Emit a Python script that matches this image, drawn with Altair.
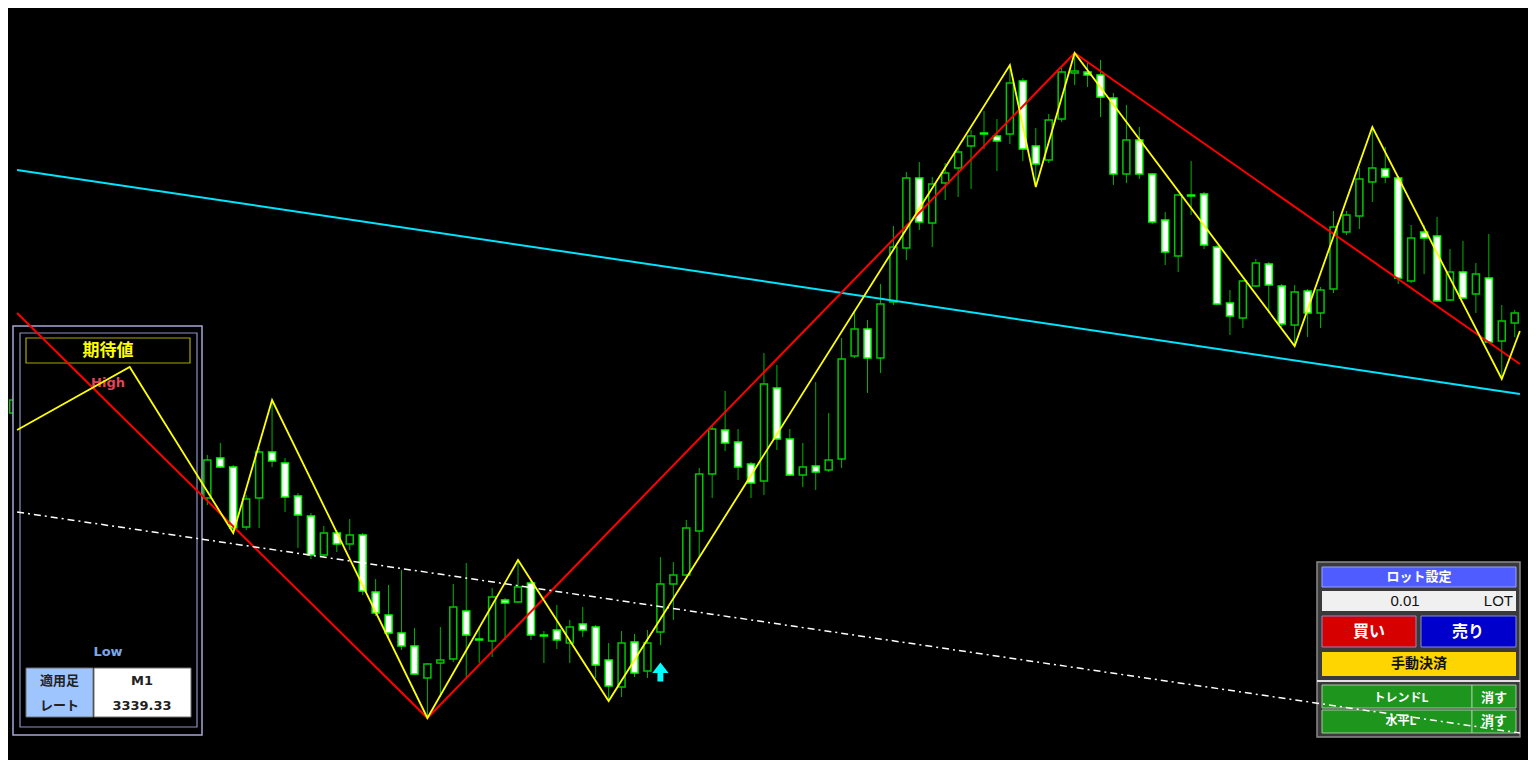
import altair as alt
import pandas as pd

# ---------------- candle data (bar index, price points measured top-down) ----------------
idx = [0, 15, 16, 17, 18, 19, 20, 21, 22, 23, 24, 25, 26, 27, 28, 29, 30, 31, 32, 33, 34,
       35, 36, 37, 38, 39, 40, 41, 42, 43, 44, 45, 46, 47, 48, 49, 50, 51, 52, 53, 54,
       55, 56, 57, 58, 59, 60, 61, 62, 63, 64, 65, 66, 67, 68, 69, 70, 71, 72, 73, 74,
       75, 76, 77, 78, 79, 80, 81, 82, 83, 84, 85, 86, 87, 88, 89, 90, 91, 92, 93, 94,
       95, 96, 97, 98, 99, 100, 101, 102, 103, 104, 105, 106, 107, 108, 109, 110, 111,
       112, 113, 114, 115, 116]
opens = [413, 498, 458, 467, 527, 498, 452, 463, 496, 516, 555, 533, 544, 535, 592, 615, 633, 646, 678, 663, 659,
         611, 639, 641, 600, 602, 583, 635, 630, 643, 624, 627, 660, 687, 642, 671, 632, 584, 575, 531, 474,
         430, 442, 464, 481, 388, 439, 475, 466, 470, 459, 356, 329, 358, 302, 248, 178, 223, 183, 168, 146,
         133, 136, 134, 81, 146, 160, 119, 73, 72, 75, 98, 174, 140, 174, 220, 256, 195, 194, 247, 303,
         318, 286, 264, 286, 325, 291, 313, 289, 232, 216, 182, 169, 178, 281, 232, 236, 300,
         272, 294, 278, 341, 323]
highs = [395, 455, 443, 465, 495, 448, 400, 458, 493, 513, 526, 530, 519, 533, 579, 585, 570, 628, 663, 627, 584,
         563, 627, 588, 598, 560, 580, 631, 605, 620, 607, 625, 643, 631, 634, 630, 557, 562, 520, 468, 425,
         391, 429, 462, 353, 365, 429, 443, 382, 413, 338, 312, 320, 284, 226, 172, 162, 177, 163, 147, 130,
         111, 119, 65, 78, 128, 114, 68, 53, 63, 60, 93, 105, 127, 173, 212, 194, 161, 192, 245, 290,
         280, 259, 262, 284, 285, 289, 287, 211, 211, 168, 127, 147, 176, 225, 225, 217, 249,
         241, 263, 234, 305, 310]
lows = [420, 505, 468, 533, 530, 528, 467, 512, 548, 559, 558, 552, 550, 595, 616, 637, 650, 675, 718, 697, 662,
        677, 663, 657, 640, 603, 640, 663, 649, 663, 637, 678, 701, 697, 677, 678, 645, 620, 578, 557, 498,
        451, 480, 498, 495, 450, 476, 487, 490, 472, 468, 358, 393, 373, 305, 260, 230, 247, 200, 197, 189,
        149, 171, 144, 161, 187, 163, 122, 85, 87, 117, 185, 183, 179, 224, 265, 272, 215, 249, 305, 335,
        328, 287, 313, 327, 346, 337, 328, 293, 235, 229, 202, 183, 284, 283, 274, 302, 301,
        299, 313, 343, 379, 337]
closes = [400, 460, 467, 528, 499, 452, 461, 497, 515, 555, 533, 544, 535, 591, 613, 633, 646, 674, 664, 660, 607,
          635, 640, 597, 603, 587, 635, 636, 640, 627, 630, 665, 686, 643, 673, 643, 584, 575, 528, 474, 429,
          443, 467, 483, 384, 439, 475, 467, 472, 460, 359, 329, 358, 304, 247, 178, 222, 184, 173, 152, 136,
          134, 141, 83, 149, 164, 120, 72, 71, 75, 97, 174, 140, 174, 222, 252, 195, 196, 245, 304, 316,
          281, 263, 285, 324, 292, 313, 290, 227, 215, 179, 168, 177, 278, 238, 238, 301, 272,
          298, 274, 342, 321, 313]

# zigzag / trend lines (bar index, price points)
yellow_idx = [0.3, 9, 17, 20, 32, 39, 46, 77, 79, 82, 99, 105, 115, 116.4]
yellow_val = [430, 367, 533, 400, 718, 560, 701, 65, 187, 53, 346, 127, 379, 331]
red_idx = [0.3, 32, 82, 116.4]
red_val = [313, 718, 53, 364]
cyan_idx = [0.3, 116.4]
cyan_val = [170, 394]
dash_idx = [0.3, 116.4]
dash_val = [512, 733]
arrow_idx = [50]
arrow_val = [672]

# panel texts
rate_text = "3339.33"
tf_text = "M1"
lot_text = "0.01"

# ---------------- build ----------------
W, H = 1520, 752
XS = alt.Scale(domain=[-0.015, 116.64], nice=False, zero=False)
YS = alt.Scale(domain=[760, 8], nice=False, zero=False)

GREEN_WICK = "#00b400"
BULL_STROKE = "#00c800"
BEAR_STROKE = "#00ff00"

cdf = pd.DataFrame({"i": idx, "o": opens, "h": highs, "l": lows, "c": closes})
cdf["fill"] = ["#ffffff" if c >= o else "#000000" for o, c in zip(cdf.o, cdf.c)]
cdf["stroke"] = [BEAR_STROKE if c >= o else BULL_STROKE for o, c in zip(cdf.o, cdf.c)]

X = alt.X("i:Q", scale=XS, axis=None)

wicks = alt.Chart(cdf).mark_rule(color=GREEN_WICK, strokeWidth=1, clip=True).encode(
    x=X, y=alt.Y("h:Q", scale=YS, axis=None), y2="l:Q")
bodies = alt.Chart(cdf).mark_bar(size=7, strokeWidth=1.5, clip=True).encode(
    x=X, y=alt.Y("o:Q", scale=YS, axis=None), y2="c:Q",
    fill=alt.Fill("fill:N", scale=None), stroke=alt.Stroke("stroke:N", scale=None))


def line_layer(ix, vals, color, width, dash=None):
    df = pd.DataFrame({"i": ix, "v": vals, "k": list(range(len(ix)))})
    kw = dict(color=color, strokeWidth=width, clip=True)
    if dash:
        kw["strokeDash"] = dash
    return alt.Chart(df).mark_line(**kw).encode(
        x=X, y=alt.Y("v:Q", scale=YS, axis=None), order="k:Q")


dummy = pd.DataFrame({"a": [0]})


def rect(x1, y1, x2, y2, fill, stroke=None, sw=1.0):
    kw = dict(fill=fill)
    if stroke:
        kw.update(stroke=stroke, strokeWidth=sw)
    else:
        kw.update(strokeWidth=0)
    return alt.Chart(dummy).mark_rect(**kw).encode(
        x=alt.value(x1 - 8), x2=alt.value(x2 - 8), y=alt.value(y1 - 8), y2=alt.value(y2 - 8))


def text(x, y, s, color, size, font, weight="bold", align="center"):
    return alt.Chart(dummy).mark_text(
        text=s, color=color, fontSize=size, font=font, fontWeight=weight,
        align=align, baseline="middle").encode(x=alt.value(x - 8), y=alt.value(y - 8))


JP = "Noto Sans CJK JP"
LAT = "DejaVu Sans"

left_panel = [
    rect(13, 326, 202, 735, "#000000", "#a6a6d6", 1.5),
    rect(20, 333, 197, 727, "transparent", "#9090c4", 1.2),
    rect(26, 338, 190, 363, "#000000", "#a8a800", 1.2),
    text(108, 351, "期待値", "#ffff00", 17, JP),
    text(108, 383, "High", "#e0435a", 13, LAT),
    text(108, 652, "Low", "#7aa8ea", 13, LAT),
    rect(26, 668, 93, 717, "#9ec5fe", "#707070", 1),
    rect(94, 668, 191, 717, "#ffffff", "#707070", 1),
    text(59.5, 681, "適用足", "#222222", 13, JP),
    text(59.5, 706, "レート", "#222222", 13, JP),
    text(142, 681, tf_text, "#222222", 13, LAT),
    text(142, 706, rate_text, "#222222", 13, LAT),
]

right_panel = [
    rect(1317, 562, 1520, 737, "#3a3a3a", "#8c8c8c", 1.5),
    rect(1322, 567, 1516, 587, "#4f5cff", "#9aa2ff", 1),
    text(1419, 577, "ロット設定", "#ffffff", 13, JP),
    rect(1322, 591, 1516, 611, "#f0f0f0"),
    text(1405, 601, lot_text, "#111111", 15, "Liberation Sans", weight="normal"),
    text(1513, 601, "LOT", "#111111", 15, "Liberation Sans", weight="normal", align="right"),
    rect(1322, 616, 1416, 647, "#d60000", "#8a8ad0", 1),
    text(1369, 632, "買い", "#ffffff", 16, JP),
    rect(1421, 616, 1516, 647, "#0000cc", "#8a8ad0", 1),
    text(1468, 632, "売り", "#ffffff", 16, JP),
    rect(1322, 652, 1516, 676, "#ffd500"),
    text(1419, 664, "手動決済", "#111111", 14, JP),
    rect(1317, 680, 1520, 682, "#e0e0e0"),
    rect(1322, 685, 1472, 708, "#1e961e", "#a0c8a0", 1),
    rect(1472, 685, 1516, 708, "#1e961e", "#a0c8a0", 1),
    rect(1322, 710, 1472, 733, "#1e961e", "#a0c8a0", 1),
    rect(1472, 710, 1516, 733, "#1e961e", "#a0c8a0", 1),
    text(1401, 697.5, "トレンドL", "#ffffff", 12, JP),
    text(1494, 697.5, "消す", "#ffffff", 13, JP),
    text(1401, 721, "水平L", "#ffffff", 12, JP),
    text(1494, 721, "消す", "#ffffff", 13, JP),
]

adf = pd.DataFrame({"i": arrow_idx, "v": arrow_val})
ARROW = "M0,-1.05L0.9,0.1L0.33,0.1L0.33,1.05L-0.33,1.05L-0.33,0.1L-0.9,0.1Z"
arrow = alt.Chart(adf).mark_point(shape=ARROW, filled=True, color="#00ffff", size=324, opacity=1).encode(
    x=X, y=alt.Y("v:Q", scale=YS, axis=None))

layers = [wicks, bodies] + left_panel + right_panel + [
    line_layer(cyan_idx, cyan_val, "#00e5ff", 2),
    line_layer(red_idx, red_val, "#ff0000", 2),
    line_layer(yellow_idx, yellow_val, "#ffff00", 1.8),
    line_layer(dash_idx, dash_val, "#ffffff", 1.5, [7, 4, 2, 4]),
    arrow,
]

chart = alt.layer(*layers).properties(
    width=W, height=H, padding=0, autosize=alt.AutoSizeParams(type="none")
).configure(background="black").configure_view(strokeWidth=0)

chart.save("out.html", embed_options={"renderer": "svg", "actions": False})
